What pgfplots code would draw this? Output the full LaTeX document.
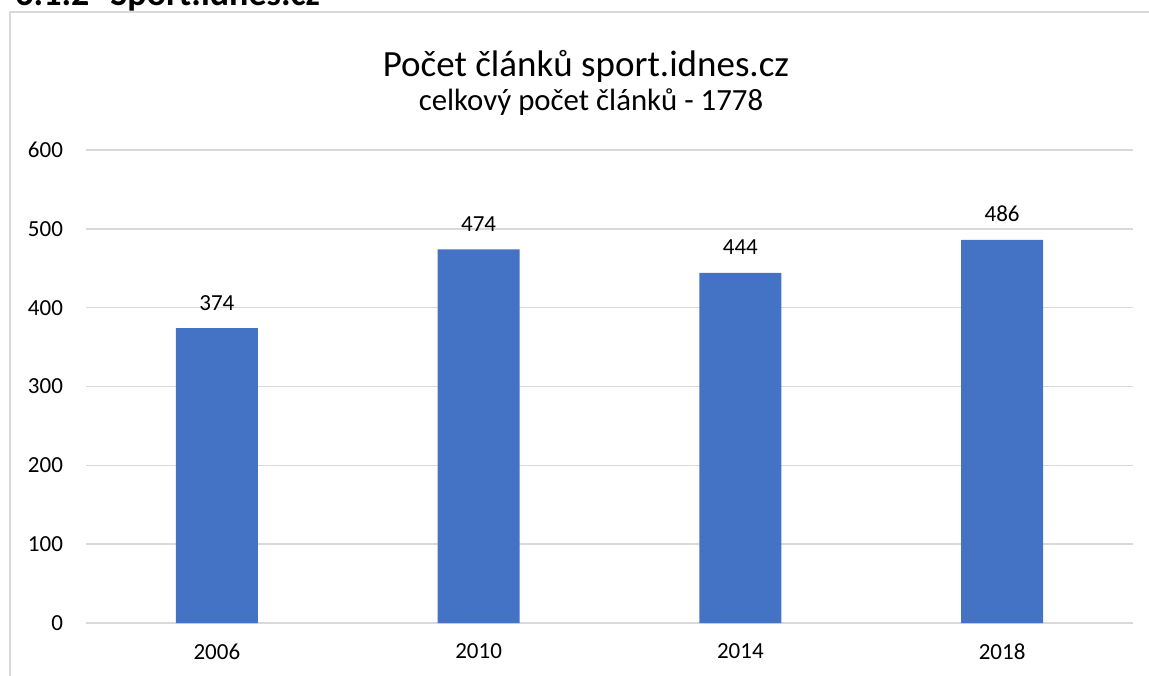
\documentclass[border=0pt]{standalone}
\usepackage{fontspec}
\setmainfont{Carlito}
\usepackage{pgfplots}
\pgfplotsset{compat=1.18}
\definecolor{barblue}{HTML}{4472C4}
\definecolor{gridgray}{HTML}{D9D9D9}
\begin{document}
\begin{tikzpicture}
\useasboundingbox (0,0) rectangle (574.5pt,-337.5pt);
% chart frame (cut off at right and bottom)
\draw[gridgray, line width=1pt] (5pt,-345pt) -- (5pt,-6pt) -- (580pt,-6pt);
% heading of the page, mostly cut off at the top
\node[anchor=base west, inner sep=0pt, font=\fontsize{18}{20}\selectfont\bfseries] at (7.5pt,-2.5pt) {6.1.2};
\node[anchor=base west, inner sep=0pt, font=\fontsize{18}{20}\selectfont\bfseries] at (55pt,-2.5pt) {Sport.idnes.cz};
% titles
\node[anchor=base, inner sep=0pt, font=\fontsize{18.5}{22}\selectfont] at (293pt,-38pt) {Počet článků sport.idnes.cz};
\node[anchor=base, inner sep=0pt, font=\fontsize{15.4}{18}\selectfont] at (295.5pt,-55pt) {celkový počet článků - 1778};
\begin{axis}[
  at={(43pt,-311.5pt)}, anchor=south west,
  scale only axis, width=523.5pt, height=236.5pt,
  ybar, bar width=41pt,
  xmin=-0.5, xmax=3.5, ymin=0, ymax=600,
  xtick=data, xticklabels={2006,2010,2014,2018},
  ytick={0,100,...,600},
  ymajorgrids, grid style={gridgray, line width=0.75pt},
  axis x line*=bottom, axis y line*=left,
  x axis line style={gridgray, line width=0.75pt, -},
  y axis line style={draw=none},
  major tick length=0pt,
  /pgf/number format/assume math mode=true,
  /pgf/number format/1000 sep={},
  tick label style={font=\fontsize{11.5}{13}\selectfont},
  xticklabel style={yshift=-6.7pt},
  yticklabel style={xshift=-8pt},
  nodes near coords,
  every node near coord/.append style={font=\fontsize{11.5}{13}\selectfont, anchor=base, yshift=9pt},
]
\addplot[draw=none, fill=barblue] coordinates {(0,374) (1,474) (2,444) (3,486)};
\end{axis}
\end{tikzpicture}
\end{document}
